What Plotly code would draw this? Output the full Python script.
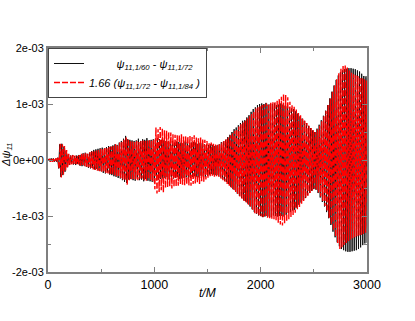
import numpy as np
import plotly.graph_objects as go

# time grids (t/M), one sample every 10 M; the red run is sampled half a step later
t_black = np.arange(0, 3001, 10)
t_red = np.arange(5, 3006, 10)

# black solid: psi_{11,1/60} - psi_{11,1/72}   (units of 1e-4)
black_vals = [
    0.0, 0.2, -0.3, 0.3, -0.2, 0.3, -0.3, 0.2, -0.3, 0.4,
    -1.5, 2.8, -3.0, 2.9, -2.7, 2.4, -2.1, 1.7, -1.3, 1.0,
    -0.9, 0.8, -0.7, 0.9, -0.8, 0.7, -0.9, 0.8, -0.7, 0.9,
    -1.0, 0.9, -1.1, 1.2, -1.0, 1.3, -1.2, 1.1, -1.4, 1.3,
    -1.5, 1.6, -1.4, 1.8, -1.7, 1.9, -1.6, 2.0, -1.9, 2.1,
    -2.0, 2.2, -2.3, 2.1, -2.4, 2.3, -2.2, 2.5, -2.6, 2.4,
    -2.7, 2.6, -2.9, 2.8, -3.0, 2.7, -3.2, 3.1, -3.3, 3.4,
    -3.6, 3.8, -3.9, 4.3, -4.1, 3.7, -3.5, 3.6, -3.4, 3.5,
    -3.6, 3.4, -3.7, 3.5, -3.3, 3.8, -3.6, 3.4, -3.5, 3.7,
    -3.8, 3.6, -3.4, 3.9, -3.7, 3.5, -3.8, 3.6, -3.9, 3.7,
    -4.0, 3.8, -3.6, 3.9, -3.5, 3.7, -3.4, 3.6, -3.3, 3.5,
    -3.2, 3.4, -3.1, 3.3, -3.5, 3.2, -3.0, 3.4, -3.3, 3.1,
    -3.2, 3.3, -3.0, 3.2, -3.4, 3.1, -3.3, 3.0, -3.2, 3.3,
    -3.1, 3.2, -3.3, 3.0, -3.2, 3.1, -3.0, 3.2, -2.9, 3.1,
    -3.0, 2.9, -3.1, 3.0, -2.8, 3.0, -2.9, 2.8, -3.0, 2.7,
    -2.8, 2.7, -2.6, 2.8, -2.5, 2.7, -2.6, 2.5, -2.7, 2.6,
    -2.7, 2.8, -3.0, 3.2, -3.4, 3.3, -3.7, 3.6, -3.9, 4.1,
    -4.3, 4.5, -4.8, 5.0, -5.2, 5.5, -5.4, 5.8, -6.0, 6.2,
    -6.4, 6.6, -6.8, 7.0, -7.2, 7.1, -7.4, 7.6, -7.8, 8.0,
    -8.3, 8.6, -8.8, 9.1, -9.3, 9.4, -9.6, 9.8, -9.9, 10.0,
    -10.0, 10.1, -10.2, 10.0, -10.1, 10.2, -10.0, 9.9, -10.1, 10.0,
    -10.2, 10.0, -9.9, 10.1, -10.0, 9.8, -10.1, 9.9, -10.0, 10.1,
    -10.0, 9.9, -10.1, 9.7, -9.8, 9.6, -9.5, 9.4, -9.3, 9.2,
    -9.0, 9.1, -8.9, 8.7, -8.5, 8.3, -8.0, 7.8, -7.6, 7.4,
    -7.2, 7.0, -6.8, 6.6, -6.3, 6.1, -5.9, 5.7, -5.5, 5.3,
    -5.2, 5.0, -5.3, 5.6, -5.9, 6.3, -6.7, 7.1, -7.5, 7.9,
    -8.3, 8.8, -9.3, 9.8, -10.4, 11.0, -11.6, 12.2, -12.8, 13.3,
    -13.8, 14.3, -14.7, 15.1, -15.4, 15.7, -15.9, 16.0, -16.1, 16.2,
    -16.3, 16.3, -16.4, 16.4, -16.4, 16.4, -16.3, 16.3, -16.2, 16.2,
    -16.1, 16.0, -15.9, 15.8, -15.6, 15.4, -15.2, 15.0, -14.9, 14.8,
    -14.8,
]

# red dashed: 1.66 (psi_{11,1/72} - psi_{11,1/84})   (units of 1e-4)
red_vals = [
    -0.1, 0.2, -0.3, 0.2, -0.3, 0.3, -0.2, 0.3, -0.3, 0.4,
    -1.6, 2.9, -3.1, 2.8, -2.6, 2.5, -2.0, 1.8, -1.4, 1.1,
    -0.9, 0.8, -0.8, 0.9, -0.7, 0.8, -0.9, 0.7, -0.8, 0.9,
    -1.0, 1.1, -0.9, 1.2, -1.1, 1.2, -1.3, 1.1, -1.3, 1.4,
    -1.4, 1.5, -1.7, 1.6, -1.8, 1.7, -1.9, 1.8, -2.0, 2.0,
    -2.1, 2.0, -2.2, 2.2, -2.3, 2.1, -2.4, 2.3, -2.5, 2.4,
    -2.6, 2.5, -2.7, 2.8, -2.9, 2.7, -3.0, 3.1, -3.2, 3.2,
    -3.5, 3.6, -3.7, 4.0, -4.4, 3.8, -3.6, 3.4, -3.5, 3.3,
    -3.4, 3.3, -3.5, 3.4, -3.6, 3.2, -3.5, 3.4, -3.3, 3.5,
    -3.6, 3.4, -3.7, 3.5, -3.4, 3.6, -3.7, 3.5, -3.8, 3.6,
    -5.2, 5.8, -6.0, 5.5, -5.7, 5.9, -5.4, 5.6, -5.8, 5.3,
    -5.0, 5.2, -4.8, 5.0, -4.7, 4.9, -5.1, 4.6, -4.8, 4.5,
    -4.7, 4.4, -4.6, 4.5, -4.3, 4.6, -4.4, 4.2, -4.5, 4.3,
    -4.4, 4.2, -4.5, 4.3, -4.6, 4.1, -4.3, 4.4, -4.2, 4.0,
    -4.1, 3.9, -4.3, 4.0, -3.8, 3.7, -3.9, 3.6, -3.5, 3.4,
    -3.2, 3.0, -2.9, 3.1, -2.8, 2.9, -3.0, 2.8, -2.9, 2.7,
    -3.0, 2.9, -3.3, 3.1, -3.6, 3.4, -3.9, 3.7, -4.3, 4.0,
    -4.6, 4.4, -5.0, 4.9, -5.3, 5.2, -5.7, 5.5, -6.1, 6.0,
    -6.5, 6.4, -6.9, 6.7, -7.4, 7.0, -7.6, 7.4, -8.0, 7.8,
    -8.4, 8.2, -8.9, 8.7, -9.5, 9.2, -9.7, 9.4, -10.0, 9.6,
    -10.1, 9.8, -10.2, 9.9, -10.0, 10.1, -10.3, 10.0, -10.4, 10.2,
    -10.5, 10.3, -10.6, 10.4, -10.8, 10.7, -11.2, 10.9, -11.5, 11.3,
    -11.7, 11.8, -11.3, 11.6, -11.0, 11.2, -10.6, 10.4, -10.2, 9.9,
    -9.8, 9.5, -9.4, 9.0, -8.8, 8.5, -8.4, 8.0, -7.8, 7.5,
    -7.3, 7.0, -6.8, 6.6, -6.4, 6.1, -5.9, 5.7, -5.5, 5.3,
    -5.1, 5.0, -5.3, 5.5, -5.8, 6.1, -6.5, 6.9, -7.3, 7.8,
    -8.2, 8.8, -9.2, 9.8, -10.3, 11.0, -11.5, 12.2, -12.6, 13.3,
    -13.7, 14.4, -14.8, 15.5, -15.9, 16.3, -15.6, 16.9, -15.2, 17.0,
    -14.8, 16.5, -14.5, 16.0, -14.2, 15.6, -14.0, 15.3, -13.8, 15.2,
    -13.6, 15.0, -13.5, 14.8, -13.4, 14.6, -13.2, 14.4, -13.0, 14.2,
    -13.0,
]
value_unit = 1e-4

x_tick_vals = [0, 1000, 2000, 3000]
x_tick_text = ["0", "1000", "2000", "3000"]
y_tick_vals = [-2e-3, -1e-3, 0, 1e-3, 2e-3]
y_tick_text = ["-2e-03", "-1e-03", "0e+00", "1e-03", "2e-03"]

x_title = "<i>t/M</i>"
y_title = "<i>Δψ</i><sub><i>11</i></sub>"
name_black = "\u00a0" * 9 + "<i>ψ</i><sub><i>11,1/60</i></sub> - <i>ψ</i><sub><i>11,1/72</i></sub>"
name_red = "<i>1.66 (ψ</i><sub><i>11,1/72</i></sub><i> - ψ</i><sub><i>11,1/84</i></sub><i> )</i>"

FONT = "Liberation Sans, Arial, Helvetica, sans-serif"

fig = go.Figure()
fig.add_trace(go.Scatter(
    x=t_black, y=np.array(black_vals) * value_unit, mode="lines",
    line=dict(color="#111111", width=1, simplify=False), name=name_black,
))
fig.add_trace(go.Scatter(
    x=t_red, y=np.array(red_vals) * value_unit, mode="lines",
    line=dict(color="#ff0000", width=1.4, dash="6px,2px", simplify=False), name=name_red,
))

axis_common = dict(
    showline=True, linecolor="#7f7f7f", linewidth=2, mirror="ticks",
    ticks="inside", ticklen=5, tickwidth=1, tickcolor="#7f7f7f",
    showgrid=False, zeroline=False, automargin=False,
)

fig.update_layout(
    width=415, height=321,
    margin=dict(l=48, r=48, t=48, b=49),
    paper_bgcolor="white", plot_bgcolor="white",
    font=dict(family=FONT, color="black"),
    showlegend=True,
    legend=dict(
        x=0, y=1, xanchor="left", yanchor="top",
        bgcolor="white", bordercolor="#444444", borderwidth=1,
        font=dict(size=11, family=FONT),
        tracegroupgap=0, itemwidth=30,
    ),
    xaxis=dict(
        range=[0, 3000], tickvals=x_tick_vals, ticktext=x_tick_text,
        tickfont=dict(size=12.5),
        minor=dict(dtick=500, tick0=0, ticks="inside", ticklen=3, tickcolor="#7f7f7f"),
        **axis_common,
    ),
    yaxis=dict(
        range=[-2e-3, 2e-3], tickvals=y_tick_vals, ticktext=y_tick_text,
        tickfont=dict(size=11),
        minor=dict(dtick=5e-4, tick0=0, ticks="inside", ticklen=3, tickcolor="#7f7f7f"),
        **axis_common,
    ),
    annotations=[
        dict(text=x_title, xref="paper", yref="paper", x=0.5, y=0,
             xanchor="center", yanchor="middle", yshift=-21, showarrow=False,
             font=dict(size=12)),
        dict(text=y_title, xref="paper", yref="paper", x=0, y=0.5,
             xanchor="center", yanchor="middle", xshift=-41, yshift=5,
             textangle=-90, showarrow=False, font=dict(size=11)),
    ],
)

fig.write_html("out.html", config={"displayModeBar": False},
               post_script="document.body.style.margin='0';")
